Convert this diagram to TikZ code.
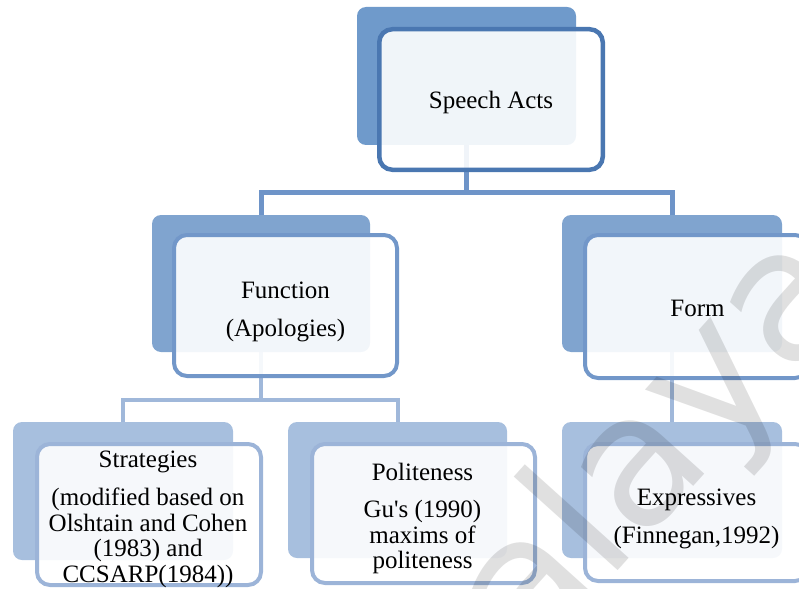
\documentclass[tikz,border=0pt]{standalone}
\usepackage{fontspec}
\setmainfont{Liberation Serif}
\newfontfamily\wmfont{DejaVu Sans}
\definecolor{cAback}{RGB}{111,154,203}
\definecolor{cAborder}{RGB}{74,119,177}
\definecolor{cBback}{RGB}{128,164,207}
\definecolor{cBborder}{RGB}{114,151,201}
\definecolor{cCback}{RGB}{167,191,222}
\definecolor{cCborder}{RGB}{156,180,216}
\definecolor{cConnA}{RGB}{110,148,200}
\definecolor{cConnB}{RGB}{160,184,218}
\tikzset{
  backbox/.style={rectangle, inner sep=0pt, outer sep=0pt},
  backfill/.style={rounded corners=9pt},
  frontbox/.style={rectangle, rounded corners=13pt, draw, fill=white, fill opacity=0.9,
    inner sep=0pt, outer sep=0pt},
  boxtext/.style={align=center, text=black, inner sep=0pt,
    font=\fontsize{25}{25.5}\selectfont},
  connA/.style={draw=cConnA, line width=5pt},
  connB/.style={draw=cConnB, line width=4pt},
}
\begin{document}
\begin{tikzpicture}[x=1pt,y=-1pt]
\useasboundingbox (0,0) rectangle (799,588);
\begin{scope}
\clip (0,0) rectangle (799,588);
% back boxes (for connector anchors)
\path
  (466.5,76) node[backbox, minimum width=219pt, minimum height=138pt] (bSA) {}
  (261,283.5) node[backbox, minimum width=218pt, minimum height=137pt] (bFun) {}
  (672,283.5) node[backbox, minimum width=220pt, minimum height=137pt] (bForm) {}
  (123,491) node[backbox, minimum width=220pt, minimum height=138pt] (bStr) {}
  (397.5,490) node[backbox, minimum width=219pt, minimum height=136pt] (bPol) {}
  (672,490) node[backbox, minimum width=220pt, minimum height=136pt] (bExp) {};
% connectors
\coordinate (jA) at (bSA.south |- 0,192);
\draw[connA] (bSA.south) -- (jA);
\draw[connA] (jA) -| (bFun.north);
\draw[connA] (jA) -| (bForm.north);
\coordinate (jB) at (bFun.south |- 0,400);
\draw[connB] (bFun.south) -- (jB);
\draw[connB] (jB) -| (bStr.north);
\draw[connB] (jB) -| (bPol.north);
\draw[connB] (bForm.south) -- (bExp.north);
% back fills
\fill[cAback, backfill] (bSA.south west) rectangle (bSA.north east);
\fill[cBback, backfill] (bFun.south west) rectangle (bFun.north east);
\fill[cBback, backfill] (bForm.south west) rectangle (bForm.north east);
\fill[cCback, backfill] (bStr.south west) rectangle (bStr.north east);
\fill[cCback, backfill] (bPol.south west) rectangle (bPol.north east);
\fill[cCback, backfill] (bExp.south west) rectangle (bExp.north east);
% front boxes
\node[frontbox, draw=cAborder, line width=4.5pt, minimum width=223.5pt, minimum height=140.5pt] (fSA) at (491,99.5) {};
\node[frontbox, draw=cBborder, line width=4pt, minimum width=223pt, minimum height=141pt] (fFun) at (285.5,305.5) {};
\node[frontbox, draw=cBborder, line width=4pt, minimum width=223pt, minimum height=143pt] (fForm) at (696.5,306.5) {};
\node[frontbox, draw=cCborder, line width=4pt, minimum width=224pt, minimum height=141pt] (fStr) at (149,514.5) {};
\node[frontbox, draw=cCborder, line width=4pt, minimum width=223pt, minimum height=139pt] (fPol) at (423.5,513.5) {};
\node[frontbox, draw=cCborder, line width=4pt, minimum width=223pt, minimum height=137pt] (fExp) at (696.5,512.5) {};
% texts
\node[boxtext] (tSA) at ([yshift=-3pt]fSA.center) {Speech Acts};
\node[boxtext] (tFun) at ([yshift=-6pt]fFun.center) {Function\\[12.5pt](Apologies)};
\node[boxtext] (tForm) at ([xshift=1pt,yshift=-2pt]fForm.center) {Form};
\node[boxtext] (tStr) at ([xshift=-1pt,yshift=-5pt]fStr.center) {Strategies\\[12.5pt](modified based on\\Olshtain and Cohen\\(1983) and\\CCSARP(1984))};
\node[boxtext] (tPol) at ([xshift=-1pt,yshift=-5pt]fPol.center) {Politeness\\[12pt]Gu\textquotesingle s (1990)\\maxims of\\politeness};
\node[boxtext] (tExp) at ([yshift=-6pt]fExp.center) {Expressives\\[12.5pt](Finnegan,1992)};
% watermark
\node[rotate=48, text=black, opacity=0.12, font=\wmfont\fontsize{184}{184}\selectfont] (wm) at (607,507) {Malaya};
\end{scope}
\end{tikzpicture}
\end{document}
